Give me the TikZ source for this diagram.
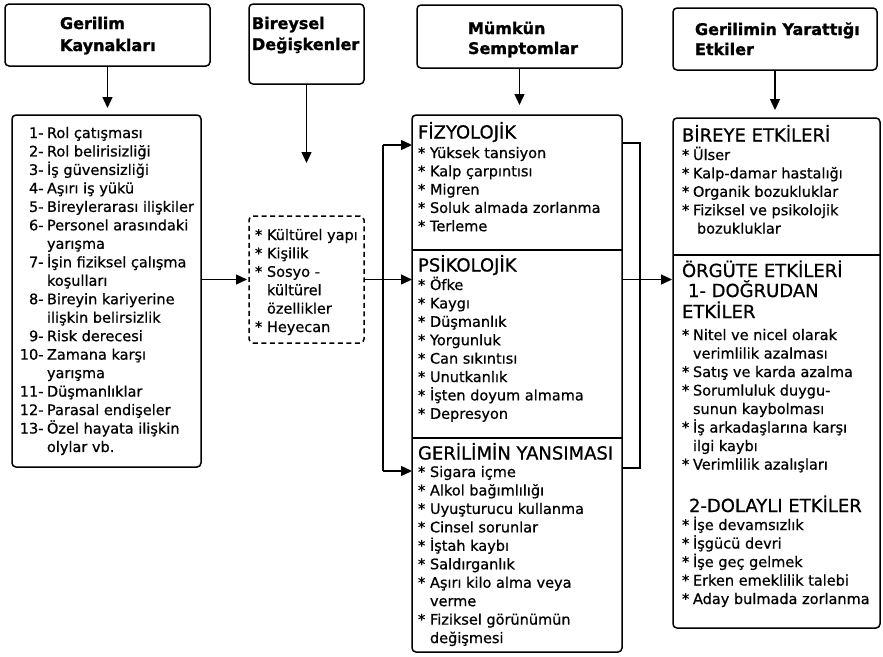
\documentclass[tikz,border=0pt]{standalone}
\usepackage{fontspec}
\setmainfont{DejaVu Sans}
\newfontfamily\itemfont{DejaVu Sans}[FakeBold=0.7]
\newfontfamily\headfont{DejaVu Sans}[UprightFont=* Bold, FakeBold=1.2]
\usetikzlibrary{arrows.meta}
\begin{document}
\begin{tikzpicture}[x=1pt,y=-1pt,
  every node/.style={inner sep=0pt, outer sep=0pt},
  frame/.style={draw, line width=1.5pt, rounded corners=4pt, anchor=north west},
  dashframe/.style={frame, dash pattern=on 5pt off 3.5pt},
  hdtext/.style={anchor=base west, font=\headfont\fontsize{16}{20}\selectfont},
  itemtext/.style={anchor=base west, font=\itemfont\fontsize{14.5}{17}\selectfont},
  sectext/.style={anchor=base west, font=\itemfont\fontsize{18}{21}\selectfont},
  link/.style={line width=1.4pt},
  arr/.style={link, -{Triangle[length=11pt,width=10pt]}},
]
\fill[white] (0,0) rectangle (883,656);
\useasboundingbox (0,0) rectangle (883,656);

% column headers
\node[frame, minimum width=205pt, minimum height=62pt] (h1) at (5,4) {};
\node[frame, minimum width=115pt, minimum height=80pt] (h2) at (249,4) {};
\node[frame, minimum width=205pt, minimum height=63pt] (h3) at (417,5) {};
\node[frame, minimum width=204pt, minimum height=62pt] (h4) at (673,8) {};

\node[hdtext] (h1a) at (60,29) {Gerilim};
\node[hdtext] (h1b) at (60,51) {Kaynakları};
\node[hdtext] (h2a) at (252,29) {Bireysel};
\node[hdtext] (h2b) at (252,50) {Değişkenler};
\node[hdtext] (h3a) at (468,34) {Mümkün};
\node[hdtext] (h3b) at (468,54) {Semptomlar};
\node[hdtext] (h4a) at (695,35) {Gerilimin Yarattığı};
\node[hdtext] (h4b) at (695,55) {Etkiler};

% content boxes
\node[frame, minimum width=189pt, minimum height=352pt] (b1) at (12,115) {};
\node[dashframe, minimum width=115pt, minimum height=127pt] (b2) at (249,216) {};
\node[frame, minimum width=210pt, minimum height=537pt] (b3) at (412,115) {};
\node[frame, minimum width=207pt, minimum height=510pt] (b4) at (673,118) {};

% section dividers
\draw[line width=1.5pt] (b3.west |- 0,250) -- (b3.east |- 0,250);
\draw[line width=1.5pt] (b3.west |- 0,438) -- (b3.east |- 0,438);
\draw[line width=1.5pt] (b4.west |- 0,255) -- (b4.east |- 0,255);

% connectors
\draw[arr, shorten >=7pt] (h1.south) -- (h1.south |- b1.north);
\draw[arr, shorten >=53pt] (h2.south) -- (h2.south |- b2.north);
\draw[arr, shorten >=10pt] (h3.south) -- (h3.south |- b3.north);
\draw[arr, shorten >=8pt] (h4.south) -- (h4.south |- b4.north);

\draw[arr, shorten >=2pt] (b1.east |- b2.west) -- (b2.west);
\draw[arr] (b2.east) -- (b3.west |- b2.east);
\coordinate (jt) at (383,145);
\coordinate (jb) at (383,471);
\draw[link] (jt) -- (jb);
\draw[arr] (jt) -- (b3.west |- jt);
\draw[arr] (jb) -- (b3.west |- jb);

\coordinate (rt) at (640,143);
\coordinate (rb) at (640,468);
\draw[link] (b3.east |- rt) -- (rt) -- (rb) -- (b3.east |- rb);
\draw[arr, shorten >=1pt] (b3.east |- b2.east) -- (b4.west |- b2.east);

% stress sources
\foreach \m/\t [count=\i from 0] in {1-/Rol çatışması, 2-/Rol belirisizliği,
  3-/İş güvensizliği, 4-/Aşırı iş yükü, 5-/Bireylerarası ilişkiler,
  6-/Personel arasındaki, /yarışma, 7-/İşin fiziksel çalışma, /koşulları,
  8-/Bireyin kariyerine, /ilişkin belirsizlik, 9-/Risk derecesi,
  10-/Zamana karşı, /yarışma, 11-/Düşmanlıklar, 12-/Parasal endişeler,
  13-/Özel hayata ilişkin, /olylar vb.}
  \node[itemtext] (k\i) at (12, 138+18.47*\i) {\makebox[31.5pt][r]{\m}\hspace{3.5pt}\t};

% individual variables
\foreach \m/\t [count=\i from 0] in {*/Kültürel yapı, */Kişilik, */Sosyo -,
  /kültürel, /özellikler, */Heyecan}
  \node[itemtext] (d\i) at (255, 240+18.4*\i) {\makebox[12pt][l]{\m}\t};

% possible symptoms
\node[sectext] (fz) at (418,138.5) {FİZYOLOJİK};
\foreach \m/\t [count=\i from 0] in {*/Yüksek tansiyon, */Kalp çarpıntısı,
  */Migren, */Soluk almada zorlanma, */Terleme}
  \node[itemtext] (fz\i) at (418, 158+18.3*\i) {\makebox[12pt][l]{\m}\t};

\node[sectext] (ps) at (418,271.5) {PSİKOLOJİK};
\foreach \m/\t [count=\i from 0] in {*/Öfke, */Kaygı, */Düşmanlık,
  */Yorgunluk, */Can sıkıntısı, */Unutkanlık, */İşten doyum almama,
  */Depresyon}
  \node[itemtext] (ps\i) at (418, 290+18.4*\i) {\makebox[12pt][l]{\m}\t};

\node[sectext] (gy) at (418,459.5) {GERİLİMİN YANSIMASI};
\foreach \m/\t [count=\i from 0] in {*/Sigara içme, */Alkol bağımlılığı,
  */Uyuşturucu kullanma, */Cinsel sorunlar, */İştah kaybı, */Saldırganlık,
  */Aşırı kilo alma veya, /verme, */Fiziksel görünümün, /değişmesi}
  \node[itemtext] (gy\i) at (418, 477+18.45*\i) {\makebox[12pt][l]{\m}\t};

% effects of stress
\node[sectext] (be) at (682,141.5) {BİREYE ETKİLERİ};
\foreach \m/\t [count=\i from 0] in {*/Ülser, */Kalp-damar hastalığı,
  */Organik bozukluklar, */Fiziksel ve psikolojik, /\hspace*{4pt}bozukluklar}
  \node[itemtext] (be\i) at (682, 160+18.4*\i) {\makebox[11pt][l]{\m}\t};

\node[sectext] (oe) at (682,277) {ÖRGÜTE ETKİLERİ};
\node[sectext] (dg) at (688,297) {1- DOĞRUDAN};
\node[sectext] (dg2) at (682,318) {ETKİLER};
\foreach \m/\t [count=\i from 0] in {*/Nitel ve nicel olarak,
  /verimlilik azalması, */Satış ve karda azalma, */Sorumluluk duygu-,
  /sunun kaybolması, */İş arkadaşlarına karşı, /ilgi kaybı,
  */Verimlilik azalışları}
  \node[itemtext] (dr\i) at (682, 340+18.5*\i) {\makebox[11pt][l]{\m}\t};

\node[sectext] (dl) at (689,512) {2-DOLAYLI ETKİLER};
\foreach \m/\t [count=\i from 0] in {*/İşe devamsızlık, */İşgücü devri,
  */İşe geç gelmek, */Erken emeklilik talebi, */Aday bulmada zorlanma}
  \node[itemtext] (dl\i) at (682, 530+18.5*\i) {\makebox[11pt][l]{\m}\t};
\end{tikzpicture}
\end{document}
